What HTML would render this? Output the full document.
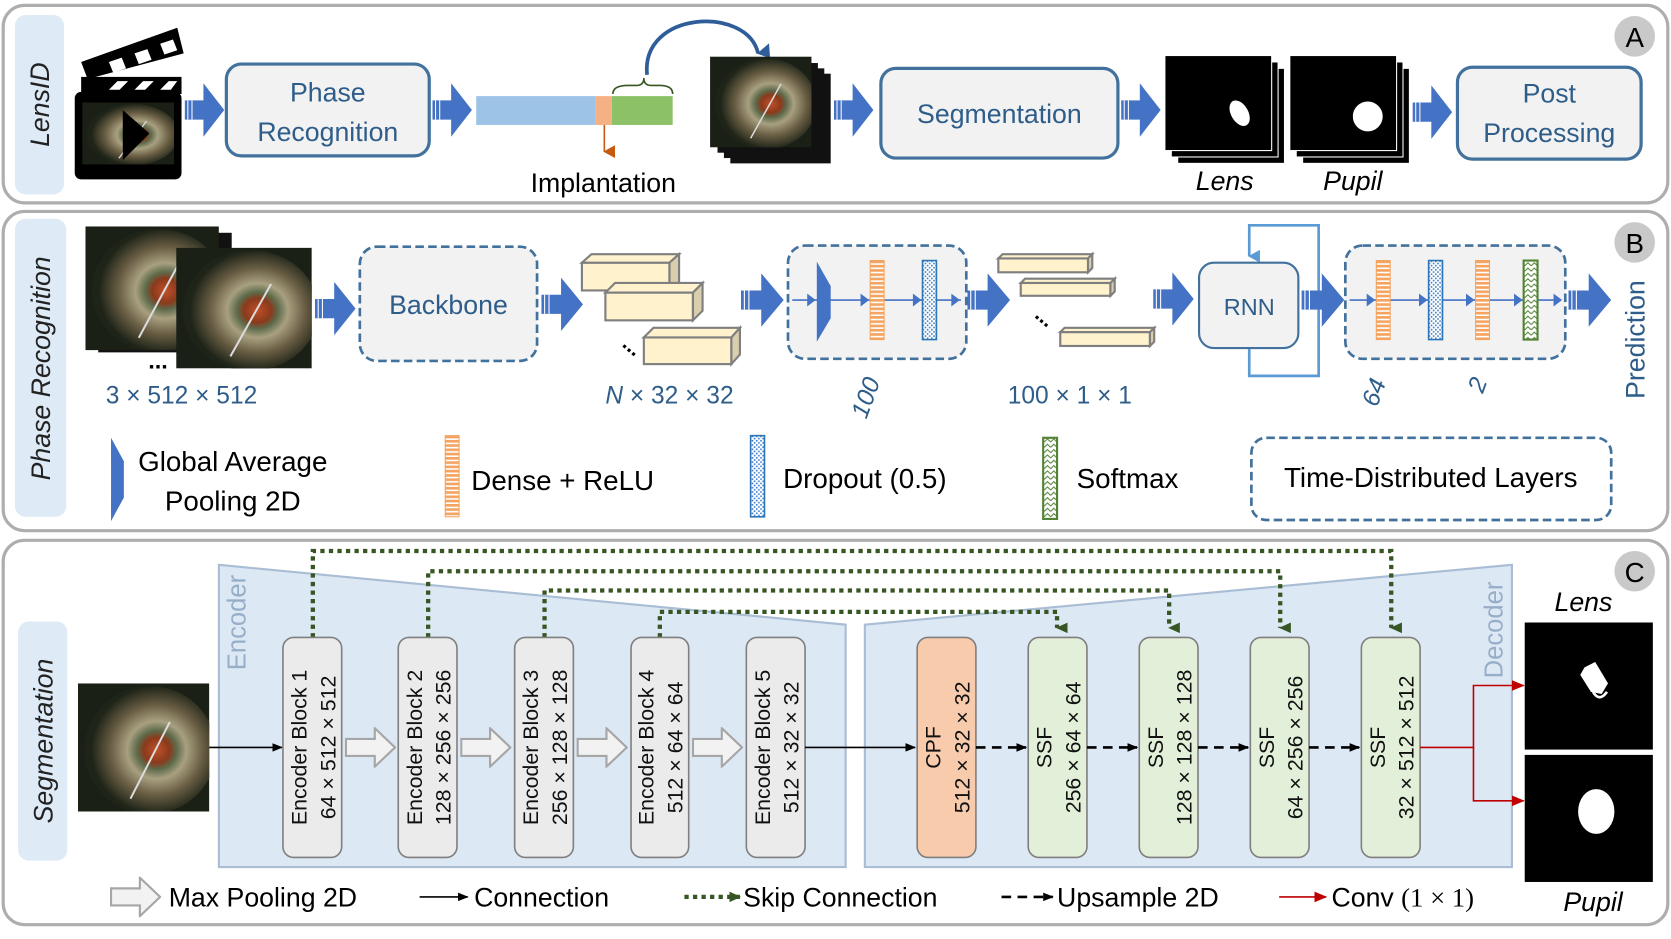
<!DOCTYPE html>
<html><head><meta charset="utf-8"><style>
html,body{margin:0;padding:0;background:#fff}
svg{display:block}
text{font-family:"Liberation Sans",sans-serif}
</style></head><body>
<svg width="1671" height="939" viewBox="0 0 1565 879.4" xmlns="http://www.w3.org/2000/svg">
<defs>
<symbol id="ba" viewBox="0 0 38 50" preserveAspectRatio="none">
<polygon points="0,16 18,16 18,0 38,25 18,50 18,34 0,34" fill="#4472c4"/>
<line x1="3" y1="16" x2="3" y2="34" stroke="#fff" stroke-width="1"/><line x1="7" y1="16" x2="7" y2="34" stroke="#fff" stroke-width="1"/>
</symbol>
<symbol id="ha" viewBox="0 0 48 38" preserveAspectRatio="none">
<polygon points="1,11 28,11 28,1 47,19 28,37 28,27 1,27" fill="#f2f2f2" stroke="#a6a6a6" stroke-width="2"/>
</symbol>
<radialGradient id="eg" cx="0.55" cy="0.5" r="0.5">
<stop offset="0" stop-color="#c0502a"/><stop offset="0.2" stop-color="#8a3a1c"/><stop offset="0.3" stop-color="#5d6a4a"/><stop offset="0.45" stop-color="#a8a080"/><stop offset="0.7" stop-color="#6a5e44"/><stop offset="1" stop-color="#1e2418"/>
</radialGradient>
<symbol id="eye" viewBox="0 0 100 100" preserveAspectRatio="none">
<rect width="100" height="100" fill="#1a2016"/><circle cx="55" cy="52" r="50" fill="url(#eg)"/>
<line x1="40" y1="90" x2="70" y2="30" stroke="#ddd" stroke-width="1.5"/>
</symbol>
<pattern id="dense" width="4" height="4" patternUnits="userSpaceOnUse"><rect width="4" height="4" fill="#f4a460"/><rect y="2.5" width="4" height="1.5" fill="#fff"/></pattern>
<pattern id="drop" width="4" height="4" patternUnits="userSpaceOnUse"><rect width="4" height="4" fill="#fff"/><rect x="0" y="0" width="1.5" height="1.5" fill="#3a7cc7"/><rect x="2" y="2" width="1.5" height="1.5" fill="#3a7cc7"/></pattern>
<pattern id="soft" width="6" height="5" patternUnits="userSpaceOnUse"><rect width="6" height="5" fill="#fff"/><path d="M0,4 L3,1 L6,4" fill="none" stroke="#548235" stroke-width="1"/></pattern>
<marker id="mk" markerWidth="10" markerHeight="10" refX="9" refY="5" orient="auto" markerUnits="userSpaceOnUse"><path d="M0,1 L10,5 L0,9z" fill="#000"/></marker>
<marker id="mg" markerWidth="12" markerHeight="12" refX="6" refY="10" orient="auto-start-reverse" markerUnits="userSpaceOnUse"><path d="M1,0 L6,11 L11,0z" fill="#375623"/></marker>
<marker id="mgr" markerWidth="12" markerHeight="12" refX="10" refY="6" orient="auto" markerUnits="userSpaceOnUse"><path d="M0,1 L11,6 L0,11z" fill="#375623"/></marker>
<marker id="mr" markerWidth="12" markerHeight="12" refX="11" refY="6" orient="auto" markerUnits="userSpaceOnUse"><path d="M0,1 L12,6 L0,11z" fill="#c00000"/></marker>
<marker id="mb" markerWidth="12" markerHeight="12" refX="6" refY="10" orient="auto" markerUnits="userSpaceOnUse"><path d="M0,0 L12,0 L6,11z" fill="#5b9bd5"/></marker>
<marker id="mbb" markerWidth="14" markerHeight="14" refX="7" refY="12" orient="auto" markerUnits="userSpaceOnUse"><path d="M0,0 L14,2 L7,13z" fill="#2e5d9a"/></marker>
<marker id="mo" markerWidth="12" markerHeight="12" refX="6" refY="10" orient="auto" markerUnits="userSpaceOnUse"><path d="M0,0 L12,0 L6,11z" fill="#c55a11"/></marker>
</defs>

<!-- PANEL A -->
<rect x="3" y="5" width="1559" height="185" rx="20" fill="#fff" stroke="#b0adae" stroke-width="3"/>
<rect x="14" y="14" width="46" height="168" rx="10" fill="#deeaf6"/>
<text transform="translate(46,98) rotate(-90)" text-anchor="middle" font-size="25" font-style="italic" fill="#222">LensID</text>
<circle cx="1531" cy="34" r="19" fill="#c9c9c9"/><text x="1531" y="44" text-anchor="middle" font-size="26">A</text>
<!-- clapper -->
<rect x="70" y="86" width="100" height="82" rx="6" fill="#000"/>
<rect x="76" y="72" width="94" height="16" fill="#000"/>
<polygon points="102,84 110,76 120,76 112,84" fill="#fff"/><polygon points="126,84 134,76 144,76 136,84" fill="#fff"/><polygon points="150,84 158,76 166,76 160,84" fill="#fff"/>
<polygon points="76,58 166,26 172,50 82,74" fill="#000"/>
<polygon points="102,58 114,54 118,64 106,68" fill="#fff"/><polygon points="126,50 138,46 142,56 130,60" fill="#fff"/><polygon points="150,41 162,37 166,47 154,51" fill="#fff"/>
<use href="#eye" x="77" y="96" width="86" height="58"/>
<polygon points="115,103 140,125 115,150" fill="#000"/>
<use href="#ba" x="173" y="78" width="37" height="50"/>
<rect x="212" y="60" width="190" height="86" rx="14" fill="#f2f2f2" stroke="#41719c" stroke-width="3"/>
<text x="307" y="95" text-anchor="middle" font-size="25" fill="#2e5d8a">Phase</text>
<text x="307" y="132" text-anchor="middle" font-size="25" fill="#2e5d8a">Recognition</text>
<use href="#ba" x="405" y="78" width="37" height="50"/>
<rect x="446" y="90" width="112" height="27" fill="#9dc3e6"/><rect x="558" y="90" width="15" height="27" fill="#f4b183"/><rect x="573" y="90" width="57" height="27" fill="#8cc168"/>
<line x1="566" y1="117" x2="566" y2="142" stroke="#c55a11" stroke-width="1.5" marker-end="url(#mo)"/>
<text x="565" y="180" text-anchor="middle" font-size="25">Implantation</text>
<path d="M574,88 Q574,80 588,80 L596,80 Q603,80 603,73 Q603,80 610,80 L618,80 Q630,80 630,88" fill="none" stroke="#375623" stroke-width="1.5"/>
<path d="M606,70 C600,10 700,5 710,50" fill="none" stroke="#2e5d9a" stroke-width="3.5" marker-end="url(#mbb)"/>
<rect x="684" y="69" width="94" height="84" fill="#111"/><rect x="678" y="64" width="94" height="84" fill="#111"/><rect x="672" y="59" width="94" height="84" fill="#111"/>
<use href="#eye" x="665" y="53" width="95" height="85"/>
<use href="#ba" x="781" y="78" width="37" height="50"/>
<rect x="825" y="64" width="222" height="84" rx="14" fill="#f2f2f2" stroke="#41719c" stroke-width="3"/>
<text x="936" y="115" text-anchor="middle" font-size="25" fill="#2e5d8a">Segmentation</text>
<use href="#ba" x="1050" y="78" width="37" height="50"/>
<rect x="1103" y="64" width="100" height="89" fill="#000" stroke="#fff"/><rect x="1097" y="58" width="100" height="89" fill="#000" stroke="#fff"/><rect x="1091" y="52" width="100" height="89" fill="#000" stroke="#fff"/>
<ellipse cx="1161" cy="106" rx="8" ry="13" transform="rotate(-30 1161 106)" fill="#fff"/>
<text x="1147" y="178" text-anchor="middle" font-size="25" font-style="italic">Lens</text>
<rect x="1220" y="64" width="100" height="89" fill="#000" stroke="#fff"/><rect x="1214" y="58" width="100" height="89" fill="#000" stroke="#fff"/><rect x="1208" y="52" width="100" height="89" fill="#000" stroke="#fff"/>
<circle cx="1281" cy="109" r="14" fill="#fff"/>
<text x="1267" y="178" text-anchor="middle" font-size="25" font-style="italic">Pupil</text>
<use href="#ba" x="1323" y="80" width="37" height="50"/>
<rect x="1365" y="63" width="172" height="86" rx="14" fill="#f2f2f2" stroke="#41719c" stroke-width="3"/>
<text x="1451" y="96" text-anchor="middle" font-size="25" fill="#2e5d8a">Post</text>
<text x="1451" y="133" text-anchor="middle" font-size="25" fill="#2e5d8a">Processing</text>

<!-- PANEL B -->
<rect x="3" y="198" width="1559" height="299" rx="20" fill="#fff" stroke="#b0adae" stroke-width="3"/>
<rect x="14" y="205" width="48" height="279" rx="10" fill="#deeaf6"/>
<text transform="translate(47,345) rotate(-90)" text-anchor="middle" font-size="25" font-style="italic" fill="#222">Phase Recognition</text>
<circle cx="1531" cy="227" r="19" fill="#c9c9c9"/><text x="1531" y="237" text-anchor="middle" font-size="26">B</text>
<rect x="92" y="218" width="125" height="112" fill="#111"/>
<use href="#eye" x="80" y="212" width="125" height="116"/>
<use href="#eye" x="165" y="232" width="127" height="113"/>
<text x="148" y="345" text-anchor="middle" font-size="22" font-weight="bold">...</text>
<text x="170" y="378" text-anchor="middle" font-size="23" font-family="Liberation Serif" fill="#2e5d8a">3 × 512 × 512</text>
<use href="#ba" x="295" y="264" width="38" height="50"/>
<rect x="337" y="231" width="166" height="107" rx="16" fill="#f2f2f2" stroke="#41719c" stroke-width="2.5" stroke-dasharray="8,4"/>
<text x="420" y="294" text-anchor="middle" font-size="25" fill="#2e5d8a">Backbone</text>
<use href="#ba" x="507" y="260" width="39" height="50"/>
<g fill="#fff2cc" stroke="#7f7f7f" stroke-width="2">
<rect x="545" y="246" width="82" height="26"/><polygon points="545,246 554,238 636,238 627,246"/><polygon points="627,246 636,238 636,264 627,272" fill="#d9cfae"/>
<rect x="567" y="274" width="82" height="26"/><polygon points="567,274 576,265 658,265 649,274"/><polygon points="649,274 658,265 658,291 649,300" fill="#d9cfae"/>
<rect x="603" y="316" width="82" height="25"/><polygon points="603,316 612,307 693,307 685,316"/><polygon points="685,316 693,307 693,332 685,341" fill="#d9cfae"/>
</g>
<text x="585" y="325" font-size="20" font-weight="bold" transform="rotate(40 585 320)">...</text>
<text x="627" y="378" text-anchor="middle" font-size="23" font-family="Liberation Serif" fill="#2e5d8a"><tspan font-style="italic">N</tspan> × 32 × 32</text>
<use href="#ba" x="694" y="256" width="40" height="50"/>
<rect x="738" y="230" width="167" height="106" rx="16" fill="#f2f2f2" stroke="#41719c" stroke-width="2.5" stroke-dasharray="8,4"/>
<line x1="742" y1="281" x2="900" y2="281" stroke="#4472c4" stroke-width="1.5"/>
<polygon points="765,245 778,268 778,298 765,320" fill="#4472c4"/>
<rect x="815" y="244" width="13" height="74" fill="url(#dense)" stroke="#f4a460"/>
<rect x="864" y="244" width="13" height="74" fill="url(#drop)" stroke="#2e75b6" stroke-width="1.5"/>
<path d="M756,275 L764,281 L756,287z M806,275 L814,281 L806,287z M855,275 L863,281 L855,287z M891,275 L899,281 L891,287z" fill="#4472c4"/>
<text transform="translate(818,375) rotate(-70)" text-anchor="middle" font-size="23" font-style="italic" font-family="Liberation Serif" fill="#2e5d8a">100</text>
<use href="#ba" x="906" y="256" width="40" height="50"/>
<g fill="#fff2cc" stroke="#7f7f7f" stroke-width="2">
<rect x="935" y="242" width="84" height="13"/><polygon points="935,242 939,238 1023,238 1019,242"/><polygon points="1019,242 1023,238 1023,251 1019,255" fill="#d9cfae"/>
<rect x="956" y="265" width="84" height="12"/><polygon points="956,265 960,261 1044,261 1040,265"/><polygon points="1040,265 1044,261 1044,273 1040,277" fill="#d9cfae"/>
<rect x="993" y="311" width="84" height="13"/><polygon points="993,311 997,307 1081,307 1077,311"/><polygon points="1077,311 1081,307 1081,320 1077,324" fill="#d9cfae"/>
</g>
<text x="972" y="298" font-size="20" font-weight="bold" transform="rotate(40 972 292)">...</text>
<text x="1002" y="378" text-anchor="middle" font-size="23" font-family="Liberation Serif" fill="#2e5d8a">100 × 1 × 1</text>
<use href="#ba" x="1080" y="255" width="38" height="50"/>
<path d="M1170,326 L1170,352 L1235,352 L1235,211 L1170,211 L1170,240" fill="none" stroke="#5b9bd5" stroke-width="2.5" marker-end="url(#mb)"/>
<rect x="1123" y="246" width="93" height="80" rx="14" fill="#f2f2f2" stroke="#41719c" stroke-width="2"/>
<text x="1170" y="295" text-anchor="middle" font-size="22" fill="#2e5d8a">RNN</text>
<use href="#ba" x="1219" y="256" width="40" height="50"/>
<rect x="1260" y="230" width="206" height="106" rx="16" fill="#f2f2f2" stroke="#41719c" stroke-width="2.5" stroke-dasharray="8,4"/>
<line x1="1264" y1="281" x2="1462" y2="281" stroke="#4472c4" stroke-width="1.5"/>
<rect x="1289" y="244" width="13" height="74" fill="url(#dense)" stroke="#f4a460"/>
<rect x="1338" y="244" width="13" height="74" fill="url(#drop)" stroke="#2e75b6" stroke-width="1.5"/>
<rect x="1382" y="244" width="13" height="74" fill="url(#dense)" stroke="#f4a460"/>
<rect x="1427" y="244" width="13" height="74" fill="url(#soft)" stroke="#548235" stroke-width="2"/>
<path d="M1280,275 L1288,281 L1280,287z M1329,275 L1337,281 L1329,287z M1373,275 L1381,281 L1373,287z M1418,275 L1426,281 L1418,287z M1455,275 L1463,281 L1455,287z" fill="#4472c4"/>
<text transform="translate(1294,370) rotate(-70)" text-anchor="middle" font-size="23" font-style="italic" font-family="Liberation Serif" fill="#2e5d8a">64</text>
<text transform="translate(1391,363) rotate(-70)" text-anchor="middle" font-size="23" font-style="italic" font-family="Liberation Serif" fill="#2e5d8a">2</text>
<use href="#ba" x="1469" y="256" width="40" height="50"/>
<text transform="translate(1540,318) rotate(-90)" text-anchor="middle" font-size="25" fill="#2e5d8a">Prediction</text>
<!-- legend B -->
<polygon points="104,410 116,432 116,466 104,488" fill="#4472c4"/>
<text x="218" y="441" text-anchor="middle" font-size="26">Global Average</text>
<text x="218" y="478" text-anchor="middle" font-size="26">Pooling 2D</text>
<rect x="417" y="408" width="13" height="76" fill="url(#dense)" stroke="#f4a460"/>
<text x="527" y="459" text-anchor="middle" font-size="26">Dense + ReLU</text>
<rect x="703" y="408" width="13" height="76" fill="url(#drop)" stroke="#2e75b6" stroke-width="1.5"/>
<text x="810" y="457" text-anchor="middle" font-size="26">Dropout (0.5)</text>
<rect x="977" y="410" width="13" height="76" fill="url(#soft)" stroke="#548235" stroke-width="2"/>
<text x="1056" y="457" text-anchor="middle" font-size="26">Softmax</text>
<rect x="1172" y="410" width="337" height="77" rx="14" fill="#fff" stroke="#41719c" stroke-width="2.5" stroke-dasharray="8,4"/>
<text x="1340" y="456" text-anchor="middle" font-size="26">Time-Distributed Layers</text>

<!-- PANEL C -->
<rect x="3" y="506" width="1559" height="360" rx="20" fill="#fff" stroke="#b0adae" stroke-width="3"/>
<rect x="17" y="582" width="46" height="224" rx="10" fill="#deeaf6"/>
<text transform="translate(49,694) rotate(-90)" text-anchor="middle" font-size="25" font-style="italic" fill="#222">Segmentation</text>
<circle cx="1531" cy="535" r="19" fill="#c9c9c9"/><text x="1531" y="545" text-anchor="middle" font-size="26">C</text>
<polygon points="205,529 792,585 792,812 205,812" fill="#dde8f5" stroke="#a9bdd4" stroke-width="2"/>
<polygon points="810,585 1416,529 1416,812 810,812" fill="#dde8f5" stroke="#a9bdd4" stroke-width="2"/>
<text transform="translate(230,583) rotate(-90)" text-anchor="middle" font-size="24" fill="#97aec8">Encoder</text>
<text transform="translate(1407,590) rotate(-90)" text-anchor="middle" font-size="24" fill="#97aec8">Decoder</text>
<use href="#eye" x="73" y="640" width="123" height="120"/>
<line x1="196" y1="700" x2="264" y2="700" stroke="#000" stroke-width="1.5" marker-end="url(#mk)"/>
<g stroke="#375623" stroke-width="4" stroke-dasharray="4,4" fill="none">
<path d="M293,597 L293,516 L1303,516 L1303,588" marker-end="url(#mg)"/>
<path d="M401,597 L401,535 L1199,535 L1199,588" marker-end="url(#mg)"/>
<path d="M510,597 L510,553 L1095,553 L1095,588" marker-end="url(#mg)"/>
<path d="M618,597 L618,573 L990,573 L990,588" marker-end="url(#mg)"/>
</g>
<g font-size="20" fill="#111">
<rect x="265" y="597" width="55" height="206" rx="10" fill="#ebebeb" stroke="#7f7f7f" stroke-width="1.5"/>
<text transform="translate(287,700) rotate(-90)" text-anchor="middle">Encoder Block 1</text><text transform="translate(314,700) rotate(-90)" text-anchor="middle">64 × 512 × 512</text>
<rect x="373" y="597" width="55" height="206" rx="10" fill="#ebebeb" stroke="#7f7f7f" stroke-width="1.5"/>
<text transform="translate(395,700) rotate(-90)" text-anchor="middle">Encoder Block 2</text><text transform="translate(422,700) rotate(-90)" text-anchor="middle">128 × 256 × 256</text>
<rect x="482" y="597" width="55" height="206" rx="10" fill="#ebebeb" stroke="#7f7f7f" stroke-width="1.5"/>
<text transform="translate(504,700) rotate(-90)" text-anchor="middle">Encoder Block 3</text><text transform="translate(531,700) rotate(-90)" text-anchor="middle">256 × 128 × 128</text>
<rect x="591" y="597" width="54" height="206" rx="10" fill="#ebebeb" stroke="#7f7f7f" stroke-width="1.5"/>
<text transform="translate(612,700) rotate(-90)" text-anchor="middle">Encoder Block 4</text><text transform="translate(639,700) rotate(-90)" text-anchor="middle">512 × 64 × 64</text>
<rect x="699" y="597" width="55" height="206" rx="10" fill="#ebebeb" stroke="#7f7f7f" stroke-width="1.5"/>
<text transform="translate(721,700) rotate(-90)" text-anchor="middle">Encoder Block 5</text><text transform="translate(748,700) rotate(-90)" text-anchor="middle">512 × 32 × 32</text>
<rect x="859" y="597" width="55" height="206" rx="10" fill="#f8cbad" stroke="#7f7f7f" stroke-width="1.5"/>
<text transform="translate(881,700) rotate(-90)" text-anchor="middle">CPF</text><text transform="translate(908,700) rotate(-90)" text-anchor="middle">512 × 32 × 32</text>
<rect x="963" y="597" width="55" height="206" rx="10" fill="#e2efd9" stroke="#7f7f7f" stroke-width="1.5"/>
<text transform="translate(985,700) rotate(-90)" text-anchor="middle">SSF</text><text transform="translate(1012,700) rotate(-90)" text-anchor="middle">256 × 64 × 64</text>
<rect x="1067" y="597" width="55" height="206" rx="10" fill="#e2efd9" stroke="#7f7f7f" stroke-width="1.5"/>
<text transform="translate(1089,700) rotate(-90)" text-anchor="middle">SSF</text><text transform="translate(1116,700) rotate(-90)" text-anchor="middle">128 × 128 × 128</text>
<rect x="1171" y="597" width="55" height="206" rx="10" fill="#e2efd9" stroke="#7f7f7f" stroke-width="1.5"/>
<text transform="translate(1193,700) rotate(-90)" text-anchor="middle">SSF</text><text transform="translate(1220,700) rotate(-90)" text-anchor="middle">64 × 256 × 256</text>
<rect x="1275" y="597" width="55" height="206" rx="10" fill="#e2efd9" stroke="#7f7f7f" stroke-width="1.5"/>
<text transform="translate(1297,700) rotate(-90)" text-anchor="middle">SSF</text><text transform="translate(1324,700) rotate(-90)" text-anchor="middle">32 × 512 × 512</text>
</g>
<use href="#ha" x="323" y="681" width="48" height="38"/>
<use href="#ha" x="431" y="681" width="48" height="38"/>
<use href="#ha" x="540" y="681" width="48" height="38"/>
<use href="#ha" x="648" y="681" width="48" height="38"/>
<line x1="754" y1="700" x2="857" y2="700" stroke="#000" stroke-width="1.5" marker-end="url(#mk)"/>
<g stroke="#000" stroke-width="2.5" stroke-dasharray="9,6">
<line x1="914" y1="700" x2="961" y2="700" marker-end="url(#mk)"/>
<line x1="1018" y1="700" x2="1065" y2="700" marker-end="url(#mk)"/>
<line x1="1122" y1="700" x2="1169" y2="700" marker-end="url(#mk)"/>
<line x1="1226" y1="700" x2="1273" y2="700" marker-end="url(#mk)"/>
</g>
<path d="M1330,700 L1380,700 L1380,642 L1427,642" fill="none" stroke="#c00000" stroke-width="1.5" marker-end="url(#mr)"/>
<path d="M1380,700 L1380,750 L1427,750" fill="none" stroke="#c00000" stroke-width="1.5" marker-end="url(#mr)"/>
<rect x="1428" y="583" width="120" height="119" fill="#000"/>
<rect x="1428" y="707" width="120" height="119" fill="#000"/>
<polygon points="1484,625 1494,620 1506,640 1500,650 1490,648 1480,632" fill="#fff"/>
<path d="M1492,648 Q1498,658 1505,648" fill="none" stroke="#fff" stroke-width="2.5"/>
<ellipse cx="1495" cy="760" rx="17" ry="21" fill="#fff"/>
<text x="1483" y="572" text-anchor="middle" font-size="25" font-style="italic">Lens</text>
<text x="1492" y="853" text-anchor="middle" font-size="25" font-style="italic">Pupil</text>
<!-- legend C -->
<use href="#ha" x="103" y="821" width="48" height="38"/>
<text x="158" y="849" font-size="25">Max Pooling 2D</text>
<line x1="393" y1="840" x2="438" y2="840" stroke="#000" stroke-width="1.5" marker-end="url(#mk)"/>
<text x="444" y="849" font-size="25">Connection</text>
<line x1="641" y1="840" x2="693" y2="840" stroke="#375623" stroke-width="4" stroke-dasharray="4,4" marker-end="url(#mgr)"/>
<text x="696" y="849" font-size="25">Skip Connection</text>
<line x1="938" y1="840" x2="986" y2="840" stroke="#000" stroke-width="2.5" stroke-dasharray="9,6" marker-end="url(#mk)"/>
<text x="990" y="849" font-size="25">Upsample 2D</text>
<line x1="1198" y1="840" x2="1242" y2="840" stroke="#c00000" stroke-width="1.5" marker-end="url(#mr)"/>
<text x="1247" y="849" font-size="25">Conv <tspan font-family="Liberation Serif">(1 × 1)</tspan></text>
</svg>
</body></html>
